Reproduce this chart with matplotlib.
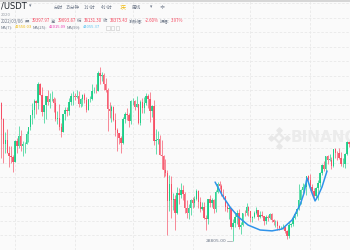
import numpy as np
import pandas as pd
import matplotlib
matplotlib.use('Agg')
import matplotlib.pyplot as plt

# BTC/USDT daily candles, 2021-02-21 .. 2021-08-21 (prices in thousands)
start = '2021-02-21'
opens = [55.9, 57.4, 54.1, 48.9, 49.7, 47.0, 46.3, 46.2,
         45.2, 49.6, 48.4, 50.5, 48.4, 48.8, 48.9, 51.0, 52.4, 54.9, 56.0, 57.8, 57.3, 61.2, 59.0, 55.6,
         56.9, 58.9, 57.6, 58.1, 58.1, 57.4, 54.1, 54.3, 52.3, 51.3, 55.1, 55.9, 55.8, 57.6, 58.8,
         58.8, 58.7, 58.9, 57.1, 58.2, 59.1, 58.0, 56.0, 58.1, 58.1, 59.8, 59.9, 59.8, 63.6, 62.9,
         63.2, 61.4, 60.0, 56.2, 55.7, 56.5, 53.8, 51.7, 51.2, 50.1, 49.1, 54.0, 55.0, 54.8, 53.6,
         57.7, 57.8, 56.6, 57.2, 53.2, 57.5, 56.4, 57.3, 58.9, 58.2, 55.8, 56.7, 49.4, 49.7, 49.9,
         46.7, 46.4, 43.5, 42.9, 37.0, 40.7, 37.3, 37.5, 34.7, 38.8, 38.4, 39.3, 38.5, 35.7, 34.6, 35.7,
         37.3, 36.7, 37.6, 39.2, 36.9, 35.5, 35.8, 33.6, 33.4, 37.4, 36.7, 37.3, 35.5, 39.0, 40.5,
         40.1, 38.3, 38.1, 35.8, 35.5, 35.6, 31.6, 32.5, 33.7, 34.6, 31.6, 32.2, 34.7, 34.5, 35.9,
         35.0, 33.5, 33.8, 34.7, 35.3, 33.7, 34.2, 33.9, 32.9, 33.8, 33.5, 34.3, 33.1, 32.7, 32.8,
         31.9, 31.4, 31.5, 31.8, 30.8, 29.8, 32.1, 32.3, 33.6, 34.3, 35.4, 37.3, 39.4, 40.0, 40.0, 42.2,
         41.5, 39.9, 39.2, 38.2, 39.7, 40.9, 42.8, 44.6, 43.8, 46.3, 45.6, 45.6, 44.4, 47.8, 47.1,
         47.0, 45.9, 44.7, 44.7, 46.8, 49.3]
highs = [58.35, 57.5, 54.2, 51.4, 52.0, 48.4, 48.4, 46.7,
         49.8, 50.2, 52.6, 51.8, 49.4, 49.2, 51.5, 52.4, 54.9, 57.4, 58.1, 58.0, 61.8, 61.6, 60.6, 56.9,
         58.9, 60.0, 59.5, 59.9, 58.6, 58.4, 55.8, 57.2, 53.2, 55.1, 56.6, 56.6, 58.4, 59.4, 59.8,
         59.5, 60.0, 59.9, 58.5, 59.3, 59.5, 58.6, 58.2, 58.9, 61.2, 60.7, 61.2, 64.0, 64.85, 63.8,
         63.6, 62.5, 60.5, 57.6, 57.0, 56.8, 55.4, 52.1, 51.2, 50.5, 54.4, 55.5, 56.4, 55.2, 58.0,
         58.4, 57.9, 58.9, 57.2, 57.9, 58.4, 58.6, 59.5, 59.3, 59.6, 56.9, 58.0, 52.0, 51.6, 50.7,
         49.8, 46.6, 45.8, 43.5, 42.5, 42.2, 38.8, 38.3, 39.9, 39.8, 40.9, 40.4, 38.9, 37.3, 36.4, 37.5,
         37.9, 38.2, 39.5, 39.3, 37.9, 36.8, 36.8, 34.1, 37.5, 38.4, 37.7, 37.4, 39.4, 41.0, 41.3,
         40.5, 39.6, 38.2, 36.5, 36.1, 35.7, 33.3, 34.9, 35.3, 35.5, 32.7, 34.7, 35.3, 36.6, 36.1,
         35.0, 33.9, 35.0, 35.9, 35.3, 35.0, 35.1, 33.9, 34.1, 34.2, 34.6, 34.7, 33.3, 33.1, 33.2,
         32.2, 31.9, 32.4, 31.9, 31.1, 32.9, 32.6, 33.6, 34.5, 35.4, 40.6, 39.5, 40.9, 40.6, 42.3, 42.4,
         42.6, 40.5, 39.8, 39.9, 41.4, 43.0, 44.7, 45.3, 46.5, 46.7, 46.8, 46.2, 47.9, 48.1, 47.4,
         48.1, 47.2, 46.0, 47.1, 49.4, 49.8]
lows = [55.5, 46.0, 44.9, 47.0, 47.0, 44.1, 45.0, 43.0,
        45.1, 47.1, 48.1, 47.5, 46.3, 47.1, 48.9, 49.3, 51.8, 53.0, 54.3, 55.0, 56.1, 59.0, 54.6, 53.3,
        54.1, 57.0, 56.3, 57.8, 55.5, 53.6, 53.0, 51.7, 50.4, 51.3, 53.9, 54.7, 54.9, 57.0, 56.9,
        57.9, 58.5, 56.5, 56.5, 56.8, 57.3, 55.5, 55.9, 57.6, 57.9, 59.4, 59.4, 59.8, 61.3, 62.0,
        60.0, 59.6, 51.5, 54.2, 53.4, 53.6, 50.6, 47.5, 48.8, 47.0, 48.8, 53.3, 53.9, 52.3, 53.0,
        57.0, 56.0, 56.5, 53.1, 52.9, 55.2, 55.4, 56.9, 56.3, 53.4, 54.4, 48.6, 46.9, 48.8, 46.6,
        43.8, 42.0, 42.3, 30.0, 35.0, 33.5, 35.3, 31.1, 34.4, 36.4, 37.8, 37.2, 34.7, 33.6, 33.4, 34.2,
        35.7, 35.9, 37.2, 35.6, 34.8, 35.3, 33.3, 31.0, 32.4, 35.8, 35.9, 34.6, 34.8, 38.8, 39.5,
        38.1, 37.4, 35.1, 34.8, 33.3, 31.3, 28.805, 31.7, 32.3, 31.3, 30.2, 32.0, 33.9, 34.2, 34.0,
        32.7, 32.7, 33.6, 34.3, 33.1, 33.5, 33.8, 32.1, 32.3, 33.0, 33.3, 32.7, 32.2, 31.6, 31.1,
        31.0, 31.2, 31.2, 30.4, 29.3, 29.5, 31.7, 31.9, 33.4, 33.9, 35.3, 36.4, 38.8, 39.2, 38.3, 41.0,
        39.4, 38.7, 37.6, 37.5, 37.3, 39.9, 42.4, 43.3, 42.8, 44.7, 45.3, 43.8, 44.2, 45.9, 45.5,
        45.7, 44.4, 44.2, 43.9, 46.6, 48.3]
closes = [57.4, 54.1, 48.9, 49.7, 47.0, 46.3, 46.2, 45.2,
          49.6, 48.4, 50.5, 48.4, 48.8, 48.9, 51.0, 52.4, 54.9, 56.0, 57.8, 57.3, 61.2, 59.0, 55.6, 56.9,
          58.9, 57.6, 58.1, 58.1, 57.4, 54.1, 54.3, 52.3, 51.3, 55.1, 55.9, 55.8, 57.6, 58.8, 58.8,
          58.7, 58.9, 57.1, 58.2, 59.1, 58.0, 56.0, 58.1, 58.1, 59.8, 59.9, 59.8, 63.6, 62.9, 63.2,
          61.4, 60.0, 56.2, 55.7, 56.5, 53.8, 51.7, 51.2, 50.1, 49.1, 54.0, 55.0, 54.8, 53.6, 57.7,
          57.8, 56.6, 57.2, 53.2, 57.5, 56.4, 57.3, 58.9, 58.2, 55.8, 56.7, 49.4, 49.7, 49.9, 46.7,
          46.4, 43.5, 42.9, 37.0, 40.7, 37.3, 37.5, 34.7, 38.8, 38.4, 39.3, 38.5, 35.7, 34.6, 35.7, 37.3,
          36.7, 37.6, 39.2, 36.9, 35.5, 35.8, 33.6, 33.4, 37.4, 36.7, 37.3, 35.5, 39.0, 40.5, 40.1,
          38.3, 38.1, 35.8, 35.5, 35.6, 31.6, 32.5, 33.7, 34.6, 31.6, 32.2, 34.7, 34.5, 35.9, 35.0,
          33.5, 33.8, 34.7, 35.3, 33.7, 34.2, 33.9, 32.9, 33.8, 33.5, 34.3, 33.1, 32.7, 32.8, 31.9,
          31.4, 31.5, 31.8, 30.8, 29.8, 32.1, 32.3, 33.6, 34.3, 35.4, 37.3, 39.4, 40.0, 40.0, 42.2, 41.5,
          39.9, 39.2, 38.2, 39.7, 40.9, 42.8, 44.6, 43.8, 46.3, 45.6, 45.6, 44.4, 47.8, 47.1, 47.0,
          45.9, 44.7, 44.7, 46.8, 49.3, 48.9]

# hand drawn blue annotation (day index, price)
curve_day = [111.7, 115.5, 119.4, 124.0, 128.8, 135.0, 141.2, 146.4, 151.6, 155.7, 157.8, 159.3,
             161.9, 163.5, 165.0, 167.1, 169.7]
curve_price = [41.0, 38.2, 35.85, 33.7, 32.1, 31.08, 30.9, 31.29, 33.15, 36.26, 38.74, 41.85,
               38.74, 37.1, 38.1, 40.0, 43.3]

grid_prices = np.arange(30, 79, 3)

W, H = 350, 250
up, down = '#0ecb81', '#f6465d'
cjk = ['Noto Sans CJK SC', 'DejaVu Sans']

fig = plt.figure(figsize=(W / 100, H / 100), dpi=100, facecolor='#fafafa')
ax = fig.add_axes([0, 0, 1, 1])
ax.set_facecolor('#fafafa')

dates = pd.date_range(start, periods=len(closes), freq='D')
x = np.arange(len(closes))
o, h, l, c = map(np.array, (opens, highs, lows, closes))
col = np.where(c >= o, up, down)

# grid
for p in grid_prices:
    ax.axhline(p, color='#e9e9e9', lw=0.6, ls=(0, (3, 2)), zorder=0)
for i in x[dates.day == 1]:
    ax.axvline(i, color='#e9e9e9', lw=0.6, ls=(0, (3, 2)), zorder=0)

# candles
ax.vlines(x, l, h, colors=col, lw=0.55, alpha=0.8, zorder=2)
body = np.maximum(np.abs(c - o), 0.08)
ax.bar(x, body, bottom=np.minimum(o, c), width=0.72, color=col, alpha=0.85, lw=0, zorder=3)

ax.plot(curve_day, curve_price, color='#2f93ea', lw=1.1, solid_capstyle='round', zorder=4)

# low marker
lo = int(np.argmin(l))
ax.plot([lo - 3.2, lo - 0.6], [l[lo], l[lo]], color='#9aa0a8', lw=0.5, zorder=4)
ax.text(lo - 3.4, l[lo], '%.2f' % (l[lo] * 1000), fontsize=3.2, color='#707a8a',
        ha='right', va='center', zorder=4)

ax.set_xlim(0.26, 181.6)
ax.set_ylim(26.94, 78.69)
ax.axis('off')

# watermark
ax.scatter([279 / W], [1 - 138 / H], marker='D', s=22, facecolor='none', edgecolor='#e8e8e8', lw=1.6,
           transform=ax.transAxes, zorder=1)
for dx, dy in [(-8, 0), (8, 0), (0, -8), (0, 8)]:
    ax.scatter([(279 + dx) / W], [1 - (138 + dy) / H], marker='D', s=7, color='#e8e8e8',
               transform=ax.transAxes, zorder=1)
fig.text(291 / W, 1 - 138 / H, 'BINANCE', fontsize=11, fontweight='bold', color='#ececec',
         va='center', ha='left', zorder=1)

# header
fig.add_artist(plt.Line2D([0, 1], [1 - 0.5 / H, 1 - 0.5 / H], color='#cfcfcf', lw=1.2))
fig.text(1 / W, 1 - 6 / H, '/USDT', fontsize=6, color='#1e2329', ha='left', va='center')
fig.text(30 / W, 1 - 6 / H, '▾', fontsize=3.5, color='#707a8a', ha='center', va='center', family=cjk)
tabs = ['分时', '15分钟', '1小时', '4小时', '1天', '周线', '▾']
tab_x = [58, 73, 89, 107, 123, 136, 151]
for t, tx in zip(tabs, tab_x):
    fig.text(tx / W, 1 - 7 / H, t, fontsize=3.3, color='#f0b90b' if t == '1天' else '#707a8a',
             ha='center', va='center', family=cjk)
fig.text(161.5 / W, 1 - 7 / H, '≑', fontsize=4.5, color='#707a8a', ha='center', va='center', family=cjk)
fig.text(1 / W, 1 - 15 / H, '2020', fontsize=2.8, color='#9aa0a8', ha='left', va='center')

renderer = fig.canvas.get_renderer()


def run(x0, y0, parts, size):
    for s, colr in parts:
        t = fig.text(x0 / W, 1 - y0 / H, s, fontsize=size, color=colr, ha='left', va='center', family=cjk)
        x0 = t.get_window_extent(renderer).x1 + 1.2


grey = '#707a8a'
run(1, 21, [('2022/03/06', grey), ('开:', grey), ('39397.97', down), ('高:', grey), ('39693.87', down),
            ('低:', grey), ('38131.30', down), ('收:', grey), ('38375.43', down), ('涨跌幅:', grey),
            ('-2.60%', down), ('振幅:', grey), ('3.97%', down)], 3.1)
run(1, 27.5, [('MA(7):', grey), ('41550.03', '#f0b90b'), ('MA(25):', grey), ('42015.09', '#eb40b5'),
              ('MA(99):', grey), ('44055.37', '#5ec4f2')], 3.0)
for bx in [106, 111, 116]:
    fig.add_artist(plt.Rectangle((bx / W, 1 - 29.5 / H), 3.5 / W, 3.5 / H, fill=False,
                                 edgecolor='#c8c8c8', lw=0.4))

fig.savefig('out.png', dpi=100, facecolor='#fafafa')
